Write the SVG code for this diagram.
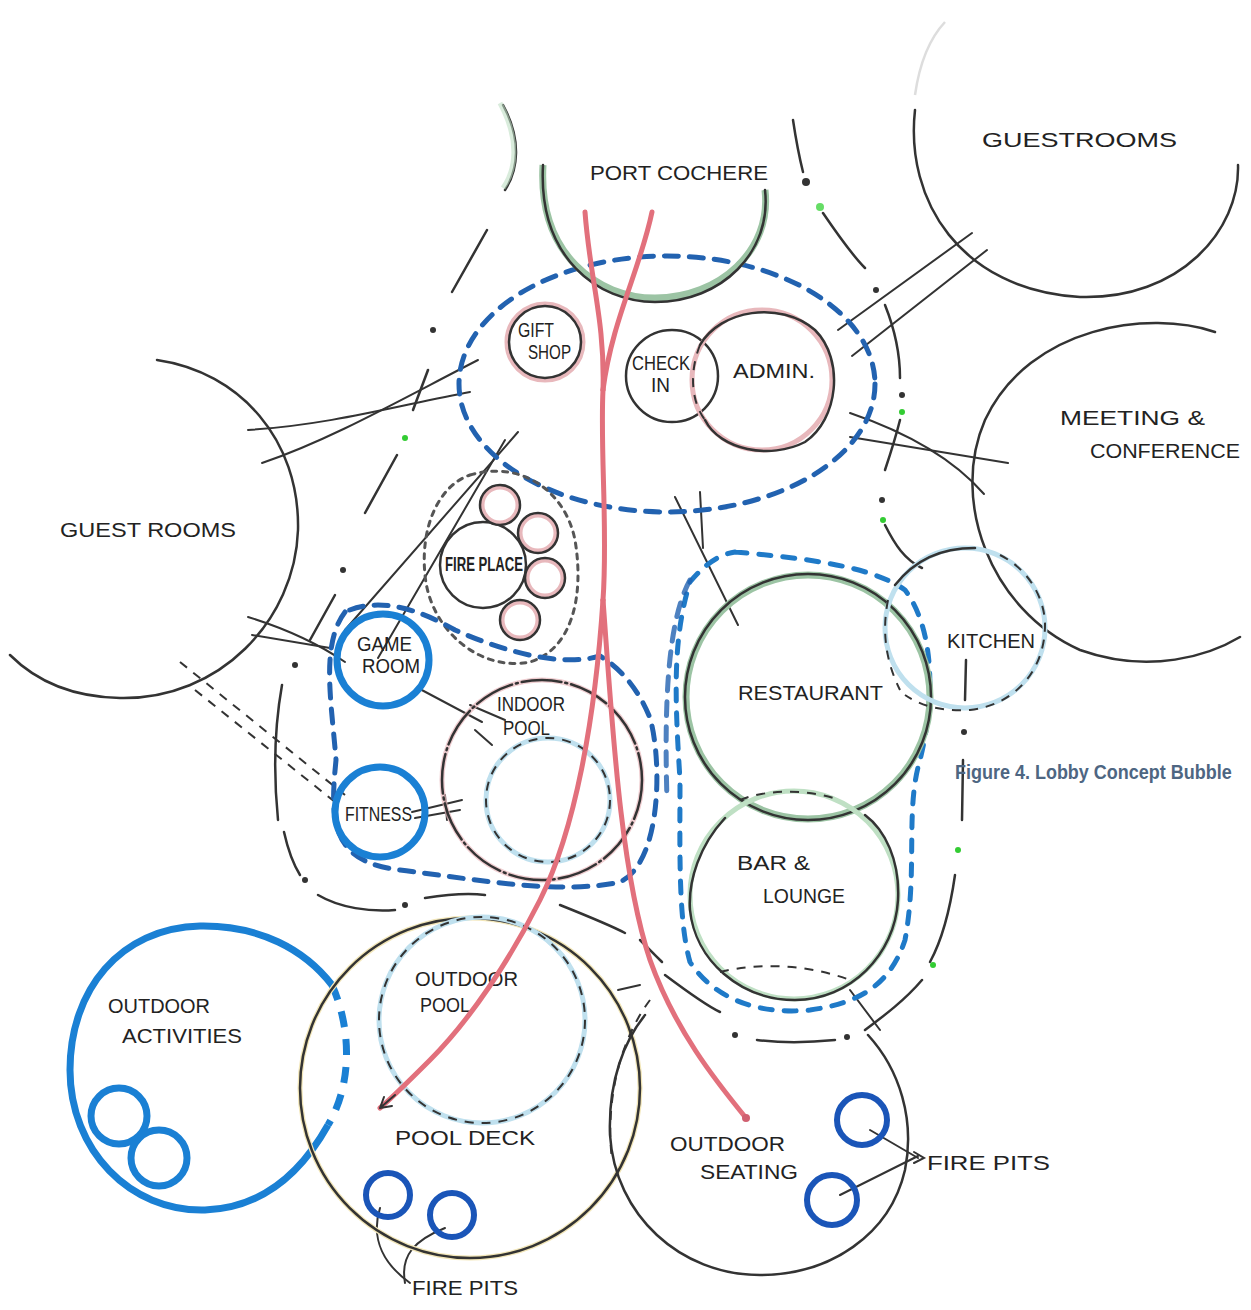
<svg xmlns="http://www.w3.org/2000/svg" width="1251" height="1310" viewBox="0 0 1251 1310">
<defs>
<style>
.ink{fill:none;stroke:#333;stroke-width:2.5;stroke-linecap:round;stroke-linejoin:round}
.thin{fill:none;stroke:#333;stroke-width:2;stroke-linecap:round}
.dash{fill:none;stroke:#333;stroke-width:2;stroke-dasharray:9 8}
.dots{fill:none;stroke:#555;stroke-width:3;stroke-dasharray:5 6;stroke-linecap:round}
.blue{fill:none;stroke:#1a80d4;stroke-width:7}
.bluedash{fill:none;stroke:#2262b0;stroke-width:5;stroke-dasharray:14 11;stroke-linecap:round}
.bluedash2{fill:none;stroke:#1f7ac8;stroke-width:5;stroke-dasharray:12 12;stroke-linecap:round}
.pit{fill:none;stroke:#1a55b8;stroke-width:6}
.red{fill:none;stroke:#e2707c;stroke-width:5;stroke-linecap:round}
.pink{fill:none;stroke:#e8b8bc;stroke-width:5}
.green{fill:none;stroke:#9cc4a4;stroke-width:7}
.lgreen{fill:none;stroke:#bfe0c4;stroke-width:5}
.lblue{fill:none;stroke:#bfe0ee;stroke-width:5}
.yel{fill:none;stroke:#f2e6b8;stroke-width:5}
.faint{fill:none;stroke:#ddd;stroke-width:2.5}
text{font-family:"Liberation Sans",Arial,sans-serif;fill:#222;font-size:20px}
.cap{font-family:"Liberation Sans",Arial,sans-serif;font-weight:bold;fill:#4e6682;font-size:18px}
</style>
</defs>
<rect width="1251" height="1310" fill="#fff"/>

<!-- outer boundary (dash-dot) -->
<g id="boundary">
<path class="ink" d="M503,105 C522,140 518,170 505,190"/>
<path class="lgreen" d="M500,103 C520,140 516,170 503,188" opacity="0.6"/>
<path class="ink" d="M487,230 L452,292"/>
<circle cx="433" cy="330" r="3" fill="#333"/>
<path class="ink" d="M428,370 L413,410"/>
<circle cx="405" cy="438" r="3" fill="#3c3"/>
<path class="ink" d="M397,455 L365,513"/>
<circle cx="343" cy="570" r="3" fill="#333"/>
<path class="ink" d="M335,595 L310,640"/>
<circle cx="295" cy="665" r="3" fill="#333"/>
<path class="ink" d="M282,685 C274,730 274,780 278,820"/>
<path class="ink" d="M284,832 C288,850 292,862 300,875"/>
<circle cx="305" cy="880" r="3" fill="#333"/>
<path class="ink" d="M318,895 C340,908 370,912 395,910"/>
<circle cx="405" cy="905" r="3" fill="#333"/>
<path class="ink" d="M425,898 C450,894 470,893 485,895"/>
<path class="ink" d="M793,120 C796,140 800,160 803,172"/>
<circle cx="806" cy="182" r="4" fill="#333"/>
<circle cx="820" cy="207" r="4" fill="#6d6"/>
<path class="ink" d="M823,213 C838,235 852,255 865,268"/>
<circle cx="876" cy="290" r="3" fill="#333"/>
<path class="ink" d="M885,305 C895,330 900,355 900,378"/>
<circle cx="902" cy="395" r="3" fill="#333"/>
<circle cx="902" cy="412" r="3" fill="#3c3"/>
<path class="ink" d="M900,420 C895,440 890,455 885,470"/>
<circle cx="882" cy="500" r="3" fill="#333"/>
<circle cx="883" cy="520" r="3" fill="#3c3"/>
<path class="ink" d="M885,525 C895,545 905,560 922,568"/>
<path class="ink" d="M966,660 L965,700"/>
<circle cx="964" cy="732" r="3" fill="#333"/>
<path class="ink" d="M963,760 L962,820"/>
<circle cx="958" cy="850" r="3" fill="#3c3"/>
<path class="ink" d="M955,875 C950,910 942,940 930,962"/>
<circle cx="933" cy="965" r="3" fill="#3c3"/>
<path class="ink" d="M922,980 C905,1000 885,1015 865,1030"/>
<circle cx="847" cy="1037" r="3" fill="#333"/>
<path class="ink" d="M757,1040 C790,1044 815,1042 835,1040"/>
<circle cx="735" cy="1035" r="3" fill="#333"/>
<path class="ink" d="M665,975 C685,990 705,1005 720,1012"/>
<path class="ink" d="M640,940 C650,950 655,955 662,962"/>
<path class="ink" d="M560,905 C585,915 610,925 625,933"/>
</g>

<!-- connectors / relationship lines -->
<g id="connectors">
<path class="thin" d="M838,330 L972,233"/>
<path class="thin" d="M852,356 L987,250"/>
<path class="thin" d="M850,437 L1008,463"/>
<path class="thin" d="M850,413 C900,430 950,455 984,494"/>
<path class="thin" d="M262,463 C330,440 400,400 478,360"/>
<path class="thin" d="M248,430 C330,425 400,405 470,392"/>
<path class="thin" d="M518,432 L345,630"/>
<path class="thin" d="M505,440 L378,658"/>
<path class="thin" d="M248,617 C290,630 320,645 345,662"/>
<path class="thin" d="M252,635 L330,648"/>
<path class="thin" d="M418,688 L482,722"/>
<path class="thin" d="M470,705 L505,720"/>
<path class="thin" d="M475,730 L492,745"/>
<path class="thin" d="M412,812 L462,800"/>
<path class="thin" d="M415,818 L460,810"/>
<path class="thin" d="M445,795 L447,820"/>
<path class="dash" d="M180,662 L345,795"/>
<path class="dash" d="M195,690 L335,802"/>
<path class="thin" d="M675,497 L738,625"/>
<path class="thin" d="M700,492 L703,548"/>
<path class="thin" d="M850,990 L880,1030"/>
<path class="thin" d="M618,990 L640,985"/>
<!-- fire pit leaders -->
<path class="thin" d="M380,1208 C370,1240 385,1265 410,1283"/>
<path class="thin" d="M445,1228 C415,1240 400,1255 405,1283"/>
<path class="thin" d="M870,1130 L918,1158"/>
<path class="thin" d="M840,1195 L918,1156"/>
<path class="thin" d="M914,1152 L924,1158 L914,1163"/>
</g>

<!-- Guestrooms top right -->
<g id="guestrooms-ne">
<path class="ink" d="M915,110 C905,200 960,290 1080,297 C1180,300 1240,230 1238,165"/>
<path class="faint" d="M915,95 C920,60 930,38 945,22"/>
<text x="982" y="147" textLength="195" lengthAdjust="spacingAndGlyphs" font-size="24">GUESTROOMS</text>
</g>

<!-- Meeting & conference -->
<g id="meeting">
<path class="ink" d="M1215,332 C1150,310 1030,325 985,420 C950,500 990,610 1080,650 C1150,675 1210,655 1240,637"/>
<text x="1060" y="425" textLength="145" lengthAdjust="spacingAndGlyphs">MEETING &amp;</text>
<text x="1090" y="458" textLength="150" lengthAdjust="spacingAndGlyphs">CONFERENCE</text>
</g>

<!-- Guest rooms west -->
<g id="guestrooms-w">
<path class="ink" d="M157,360 C240,372 300,440 298,530 C295,620 220,700 120,698 C70,697 35,680 10,655"/>
<text x="60" y="537" textLength="176" lengthAdjust="spacingAndGlyphs" font-size="24">GUEST ROOMS</text>
</g>

<!-- Lobby dashed oval -->
<g id="lobby">
<ellipse class="bluedash" cx="667" cy="384" rx="208" ry="128"/>
</g>

<!-- Port cochere -->
<g id="port-cochere">
<path class="green" d="M543,165 C538,255 598,298 655,298 C720,298 772,250 765,190"/>
<path class="ink" d="M543,165 C538,258 598,302 655,302 C722,302 772,252 765,190"/>
<text x="590" y="180" textLength="178" lengthAdjust="spacingAndGlyphs" font-size="24">PORT COCHERE</text>
</g>

<!-- Gift shop -->
<g id="gift-shop">
<circle class="pink" cx="545" cy="342" r="38"/>
<circle class="ink" cx="545" cy="342" r="36"/>
<text x="518" y="337" textLength="36" lengthAdjust="spacingAndGlyphs" font-size="14">GIFT</text>
<text x="528" y="359" textLength="43" lengthAdjust="spacingAndGlyphs" font-size="14">SHOP</text>
</g>

<!-- Check in -->
<g id="check-in">
<circle class="ink" cx="672" cy="376" r="46"/>
<text x="632" y="370" textLength="58" lengthAdjust="spacingAndGlyphs" font-size="14">CHECK</text>
<text x="651" y="392" textLength="19" lengthAdjust="spacingAndGlyphs" font-size="14">IN</text>
</g>

<!-- Admin -->
<g id="admin">
<circle class="pink" cx="762" cy="380" r="70"/>
<path class="ink" d="M700,345 C720,310 780,300 815,330 C845,360 838,420 805,442 C770,460 720,450 705,420"/>
<path class="dash" d="M700,345 C690,370 690,400 705,420"/>
<text x="733" y="378" textLength="82" lengthAdjust="spacingAndGlyphs" font-size="22">ADMIN.</text>
</g>

<!-- Fireplace group -->
<g id="fireplace">
<path class="dots" d="M470,475 C520,460 565,490 575,540 C585,600 570,650 530,662 C480,672 430,630 425,575 C420,525 440,485 470,475 Z"/>
<circle class="ink" cx="483" cy="565" r="43"/>
<circle class="pink" cx="500" cy="505" r="18"/>
<circle class="ink" cx="500" cy="505" r="20"/>
<circle class="pink" cx="538" cy="533" r="18"/>
<circle class="ink" cx="538" cy="533" r="20"/>
<circle class="pink" cx="545" cy="578" r="18"/>
<circle class="ink" cx="545" cy="578" r="20"/>
<circle class="pink" cx="520" cy="620" r="18"/>
<circle class="ink" cx="520" cy="620" r="20"/>
<text x="445" y="571" textLength="78" lengthAdjust="spacingAndGlyphs" font-size="13" font-weight="bold">FIRE PLACE</text>
</g>

<!-- Recreation cluster dashed outline -->
<g id="recreation">
<path class="bluedash" d="M345,612 C320,645 332,705 336,760 C330,820 330,862 400,870 C480,880 560,895 620,882 C662,862 662,760 650,718 C638,688 620,668 600,656 C560,668 500,650 455,630 C420,610 380,596 345,612"/>
</g>

<!-- Game room -->
<g id="game-room">
<circle class="blue" cx="383" cy="660" r="46"/>
<text x="357" y="651" textLength="55" lengthAdjust="spacingAndGlyphs" font-size="17">GAME</text>
<text x="362" y="673" textLength="58" lengthAdjust="spacingAndGlyphs" font-size="17">ROOM</text>
</g>

<!-- Fitness -->
<g id="fitness">
<circle class="blue" cx="380" cy="812" r="45"/>
<text x="345" y="821" textLength="67" lengthAdjust="spacingAndGlyphs" font-size="17">FITNESS</text>
</g>

<!-- Indoor pool -->
<g id="indoor-pool">
<circle class="pink" cx="542" cy="780" r="100" opacity="0.7"/>
<circle class="ink" cx="542" cy="780" r="100" stroke-dasharray="40 4 2 4"/>
<circle class="lblue" cx="548" cy="800" r="62"/>
<circle class="dash" cx="548" cy="800" r="62" stroke-dasharray="3 4"/>
<text x="497" y="711" textLength="68" lengthAdjust="spacingAndGlyphs" font-size="17">INDOOR</text>
<text x="503" y="735" textLength="47" lengthAdjust="spacingAndGlyphs" font-size="17">POOL</text>
</g>

<!-- Dining dashed outline -->
<g id="dining">
<path class="bluedash2" d="M735,552 C800,558 870,565 905,590 C935,630 935,700 920,760 C905,810 918,870 905,940 C890,985 860,1003 810,1010 C760,1015 715,1000 690,962 C678,920 680,850 680,780 C675,700 672,640 690,582 C700,570 715,555 735,552"/>
<path class="bluedash" d="M690,580 C668,620 664,700 667,800" opacity="0.8"/>
</g>

<!-- Restaurant -->
<g id="restaurant">
<circle class="green" cx="808" cy="697" r="122"/>
<circle class="ink" cx="808" cy="697" r="123" stroke-width="1.5"/>
<text x="738" y="700" textLength="145" lengthAdjust="spacingAndGlyphs" font-size="22">RESTAURANT</text>
</g>

<!-- Bar & lounge -->
<g id="bar-lounge">
<circle class="lgreen" cx="794" cy="895" r="104"/>
<path class="ink" d="M725,818 C700,845 688,880 690,910 C695,960 740,1000 795,1000 C850,1000 895,955 898,900 C900,860 885,830 865,815"/>
<path class="dash" d="M740,800 C770,788 810,790 840,800"/>
<path class="dash" d="M720,972 C760,962 810,965 850,980"/>
<text x="737" y="870" textLength="73" lengthAdjust="spacingAndGlyphs">BAR &amp;</text>
<text x="763" y="903" textLength="82" lengthAdjust="spacingAndGlyphs">LOUNGE</text>
</g>

<!-- Kitchen -->
<g id="kitchen">
<circle class="lblue" cx="965" cy="628" r="80"/>
<path class="ink" d="M895,585 C915,560 940,548 975,548"/>
<path class="dash" d="M1000,555 C1030,570 1045,600 1045,625 C1045,670 1015,705 970,710 C940,712 920,705 905,695"/>
<path class="dash" d="M888,600 C882,630 885,660 900,690"/>
<text x="947" y="648" textLength="88" lengthAdjust="spacingAndGlyphs" font-size="19">KITCHEN</text>
</g>

<!-- Outdoor activities -->
<g id="outdoor-activities">
<path class="blue" d="M332,985 C305,950 260,925 200,926 C120,928 70,990 70,1070 C70,1150 130,1212 205,1210 C260,1208 300,1175 328,1125"/>
<path class="blue" d="M332,985 C352,1030 352,1085 328,1125" stroke-dasharray="16 12"/>
<circle class="blue" cx="119" cy="1116" r="28" stroke-width="6"/>
<circle class="blue" cx="159" cy="1158" r="28" stroke-width="6"/>
<text x="108" y="1013" textLength="102" lengthAdjust="spacingAndGlyphs" font-size="19">OUTDOOR</text>
<text x="122" y="1043" textLength="120" lengthAdjust="spacingAndGlyphs" font-size="19">ACTIVITIES</text>
</g>

<!-- Pool deck -->
<g id="pool-deck">
<circle class="yel" cx="470" cy="1088" r="170"/>
<circle class="ink" cx="470" cy="1088" r="170"/>
<text x="395" y="1145" textLength="140" lengthAdjust="spacingAndGlyphs">POOL DECK</text>
<circle class="pit" cx="388" cy="1195" r="22"/>
<circle class="pit" cx="452" cy="1215" r="22"/>
<text x="412" y="1295" textLength="106" lengthAdjust="spacingAndGlyphs" font-size="19">FIRE PITS</text>
</g>

<!-- Outdoor pool -->
<g id="outdoor-pool">
<circle class="lblue" cx="482" cy="1020" r="103"/>
<circle class="dash" cx="482" cy="1020" r="103" stroke-dasharray="3 4"/>
<text x="415" y="986" textLength="103" lengthAdjust="spacingAndGlyphs" font-size="19">OUTDOOR</text>
<text x="420" y="1012" textLength="50" lengthAdjust="spacingAndGlyphs" font-size="19">POOL</text>
</g>

<!-- Outdoor seating -->
<g id="outdoor-seating">
<path class="ink" d="M868,1035 C900,1070 915,1120 905,1170 C890,1235 830,1275 760,1275 C680,1275 615,1215 610,1135 C608,1080 625,1040 645,1015"/>
<path class="dash" d="M650,1000 C620,1040 605,1100 612,1160"/>
<text x="670" y="1151" textLength="115" lengthAdjust="spacingAndGlyphs">OUTDOOR</text>
<text x="700" y="1179" textLength="98" lengthAdjust="spacingAndGlyphs">SEATING</text>
<circle class="pit" cx="862" cy="1120" r="25"/>
<circle class="pit" cx="832" cy="1200" r="25"/>
<text x="927" y="1170" textLength="123" lengthAdjust="spacingAndGlyphs">FIRE PITS</text>
</g>

<!-- Circulation (red paths) -->
<g id="circulation">
<path class="red" d="M585,212 C590,280 605,320 603,390"/>
<path class="red" d="M652,212 C640,270 612,320 603,390"/>
<path class="red" d="M603,390 C600,450 608,530 603,600"/>
<path class="red" d="M603,600 C595,720 575,830 540,900 C510,960 470,1020 430,1060 C410,1080 395,1095 380,1108"/>
<path class="red" d="M603,600 C612,720 620,870 650,960 C675,1030 715,1080 746,1118"/>
<path class="thin" d="M395,1095 L380,1108 M380,1108 L392,1106 M380,1108 L384,1097"/>
<circle cx="746" cy="1118" r="4" fill="#d06070"/>
</g>

<g id="caption" transform="translate(955,779) scale(1,1.15)">
<text class="cap" x="0" y="0">Figure 4. Lobby Concept Bubble</text>
</g>
</svg>
